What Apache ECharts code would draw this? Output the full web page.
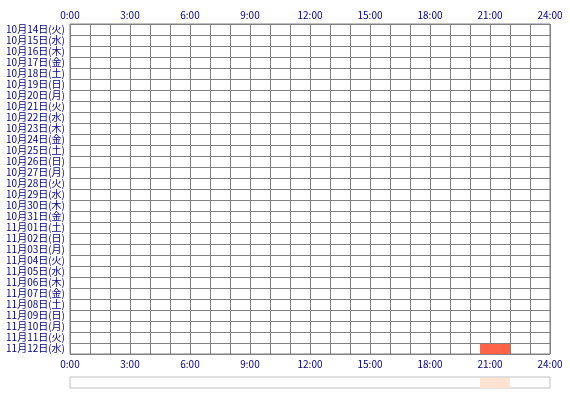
<!DOCTYPE html>
<html>
<head>
<meta charset="utf-8">
<script src="https://cdn.jsdelivr.net/npm/echarts@6/dist/echarts.min.js"></script>
<style>
html,body{margin:0;padding:0;background:#fff;}
#c{width:570px;height:400px;}
</style>
</head>
<body>
<div id="c"></div>
<script>
const dates = [
  "10月14日(火)","10月15日(水)","10月16日(木)","10月17日(金)","10月18日(土)","10月19日(日)",
  "10月20日(月)","10月21日(火)","10月22日(水)","10月23日(木)","10月24日(金)","10月25日(土)",
  "10月26日(日)","10月27日(月)","10月28日(火)","10月29日(水)","10月30日(木)","10月31日(金)",
  "11月01日(土)","11月02日(日)","11月03日(月)","11月04日(火)","11月05日(水)","11月06日(木)",
  "11月07日(金)","11月08日(土)","11月09日(日)","11月10日(月)","11月11日(火)","11月12日(水)"
];
// activity spans: [date label, start hour, end hour]
const activityDates = ["11月12日(水)"];
const activityStart = [20.5];
const activityEnd = [22];
// aggregated span over all days (bottom strip)
const summaryStart = [20.5];
const summaryEnd = [22];

const textColor = '#000080';
const font = '"Noto Sans CJK JP", sans-serif';

function rectItem(color) {
  return function (params, api) {
    const cat = api.value(0);
    const p1 = api.coord([api.value(1), cat]);
    const p2 = api.coord([api.value(2), cat]);
    const h = api.size([0, 1])[1];
    return {
      type: 'rect',
      shape: { x: p1[0], y: p1[1] - h / 2 + 1, width: p2[0] - p1[0], height: h - 1 },
      style: { fill: color }
    };
  };
}

const actData = activityDates.map((d, i) => [dates.indexOf(d), activityStart[i], activityEnd[i]]);
const sumData = summaryStart.map((s, i) => [0, s, summaryEnd[i]]);

const hourLabel = v => (v % 3 === 0 ? v + ':00' : '');

const chart = echarts.init(document.getElementById('c'));
chart.setOption({
  animation: false,
  backgroundColor: '#fff',
  grid: [
    { left: 70, right: 20, top: 24, height: 330, show: true, borderColor: '#808080', borderWidth: 1, backgroundColor: '#fff' },
    { left: 70, right: 20, top: 377, height: 11, show: true, borderColor: '#c0c0c0', borderWidth: 1 }
  ],
  xAxis: [
    { type: 'value', gridIndex: 0, position: 'top', min: 0, max: 24, interval: 1,
      axisLine: { show: false }, axisTick: { show: false },
      axisLabel: { formatter: hourLabel, color: textColor, fontSize: 10, fontFamily: font, margin: 4 },
      splitLine: { show: true, lineStyle: { color: '#808080', width: 1 } } },
    { type: 'value', gridIndex: 0, position: 'bottom', min: 0, max: 24, interval: 1,
      axisLine: { show: false }, axisTick: { show: false },
      axisLabel: { formatter: hourLabel, color: textColor, fontSize: 10, fontFamily: font, margin: 5 },
      splitLine: { show: false } },
    { type: 'value', gridIndex: 1, min: 0, max: 24, show: false }
  ],
  yAxis: [
    { type: 'category', gridIndex: 0, data: dates, inverse: true,
      axisLine: { show: false }, axisTick: { show: false },
      axisLabel: { color: textColor, fontSize: 10, fontFamily: font, margin: 5, interval: 0 },
      splitLine: { show: true, interval: 0, lineStyle: { color: '#808080', width: 1 } } },
    { type: 'category', gridIndex: 1, data: ['all'], show: false }
  ],
  series: [
    { type: 'custom', xAxisIndex: 0, yAxisIndex: 0, renderItem: rectItem('#ff6347'),
      encode: { x: [1, 2], y: 0 }, data: actData, z: 1 },
    { type: 'custom', xAxisIndex: 2, yAxisIndex: 1, renderItem: rectItem('#ffe3d1'),
      encode: { x: [1, 2], y: 0 }, data: sumData }
  ]
});
</script>
</body>
</html>
